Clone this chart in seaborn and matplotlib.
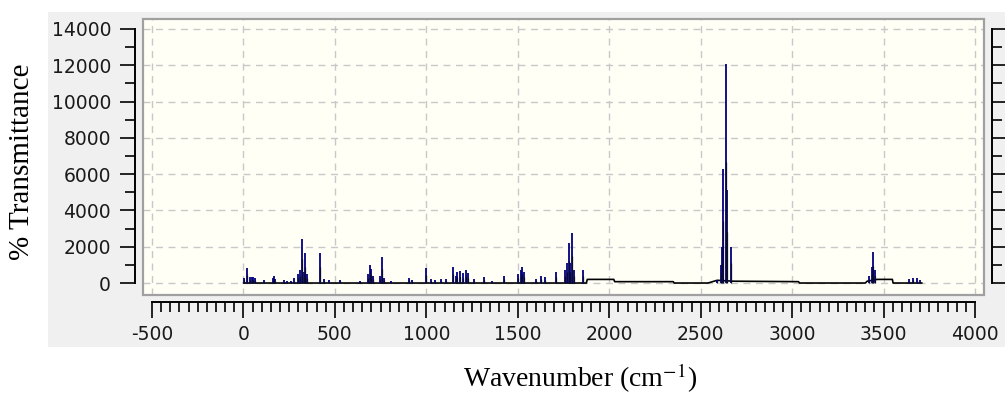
import matplotlib
matplotlib.use("Agg")
import matplotlib.pyplot as plt
from matplotlib.patches import Rectangle
from matplotlib.ticker import MultipleLocator
import pandas as pd
import seaborn as sns

# peak sticks (wavenumber, intensity)
peak_pos = [5, 20, 35, 45, 55, 65, 110, 160, 165, 175, 220, 240, 260, 275, 300, 310, 321, 330, 339, 350,
            421, 440, 470, 530, 640, 680, 690, 700, 710, 745, 759, 770, 805, 903, 923, 1000, 1025, 1050,
            1080, 1110, 1147, 1160, 1170, 1185, 1200, 1215, 1230, 1260, 1313, 1360, 1422, 1500, 1515,
            1525, 1535, 1600, 1625, 1650, 1707, 1760, 1770, 1780, 1788, 1798, 1810, 1858,
            2590, 2610, 2619, 2624, 2637, 2646, 2664, 3420, 3435, 3444, 3452, 3640, 3660, 3680, 3700]
peak_height = [300, 820, 350, 320, 330, 300, 150, 250, 390, 200, 150, 120, 120, 250, 500, 700, 2415, 600, 1630, 500,
               1650, 200, 150, 180, 100, 500, 990, 800, 400, 400, 1420, 300, 130, 290, 150, 820, 200, 150,
               200, 220, 900, 400, 600, 650, 550, 700, 550, 200, 350, 120, 400, 500, 700,
               900, 600, 200, 400, 350, 620, 700, 1100, 2210, 1100, 2740, 700, 710,
               170, 1000, 2000, 6260, 12080, 5100, 2000, 400, 900, 1720, 700, 220, 280, 250, 150]

# baseline trace
base_x = [0, 1875, 1880, 2025, 2030, 2350, 2355, 2540, 2590, 2680, 3035, 3040, 3400, 3410, 3465, 3548, 3552, 3710]
base_y = [0, 0, 200, 200, 75, 75, 0, 0, 150, 100, 75, 0, 0, 100, 200, 200, 0, 0]

x_ticks = list(range(-500, 4001, 500))
y_ticks = list(range(0, 14001, 2000))

sns.set_theme(style="white")
plt.rcParams['font.family'] = ['DejaVu Sans']
plt.rcParams['mathtext.fontset'] = 'stix'
plt.rcParams['axes.unicode_minus'] = False

fig = plt.figure(figsize=(10.05, 3.98), dpi=100)
fig.patch.set_facecolor("white")

W, H = 1005, 398
# grey panel behind the plot
fig.patches.append(Rectangle((48 / W, 1 - 347 / H), 1 - 48 / W, (347 - 12) / H,
                             transform=fig.transFigure, facecolor="#f0f0f0", edgecolor="none", zorder=-5))

ax = fig.add_axes([143 / W, 1 - 295 / H, (984 - 143) / W, (295 - 19) / H])
ax.set_zorder(2)
ax.set_facecolor("#fffff6")

base = pd.DataFrame({"x": base_x, "y": base_y})
sns.lineplot(data=base, x="x", y="y", ax=ax, color="black", lw=1.2, estimator=None, sort=False, zorder=3)
ax.vlines(peak_pos, 0, peak_height, colors="#00007a", lw=1.3, zorder=4)
ax.vlines(peak_pos, 0, [h * 0.55 for h in peak_height], colors="#0a0a30", lw=0.9, zorder=5)

ax.set_xlim(-549, 4049)
ax.set_ylim(-660, 14550)
ax.set_xticks(x_ticks)
ax.set_yticks(y_ticks)
ax.xaxis.set_minor_locator(MultipleLocator(50))
ax.yaxis.set_minor_locator(MultipleLocator(1000))
ax.set_xlabel("")
ax.set_ylabel("")

ax.grid(True, which="major", linestyle=(0, (5, 4)), color="#c8c8c8", lw=1.0)

# frame of the plot area
ax.add_patch(Rectangle((0, 0), 1, 1, transform=ax.transAxes, fill=False,
                       edgecolor="#a0a0a0", lw=1.6, clip_on=False, zorder=6))

ax.spines["top"].set_visible(False)
for s in ["left", "right", "bottom"]:
    ax.spines[s].set_visible(True)
    ax.spines[s].set_color("black")
    ax.spines[s].set_linewidth(1.4)
ax.spines["left"].set_position(("outward", 6))
ax.spines["right"].set_position(("outward", 6))
ax.spines["bottom"].set_position(("outward", 5))
ax.spines["left"].set_bounds(0, 14000)
ax.spines["right"].set_bounds(0, 14000)
ax.spines["bottom"].set_bounds(-500, 4000)

ax.tick_params(axis="y", which="both", left=True, right=True, labelright=False, direction="out",
               color="black", width=1.2)
ax.tick_params(axis="y", which="major", length=11, pad=6, labelsize=13.5, labelcolor="#1a1a1a")
ax.tick_params(axis="y", which="minor", length=7)
ax.tick_params(axis="x", which="both", bottom=True, direction="out", color="black", width=1.2)
ax.tick_params(axis="x", which="major", length=11.5, pad=5, labelsize=13.5, labelcolor="#1a1a1a")
ax.tick_params(axis="x", which="minor", length=7)

fig.text(580 / W, 1 - 378 / H, "Wavenumber (cm$^{-1}$)", family="Liberation Serif",
         fontsize=20, ha="center", va="center", color="black")
fig.text(22 / W, 1 - 162 / H, "% Transmittance", family="Liberation Serif",
         fontsize=21, ha="center", va="center", rotation=90, color="black")

fig.savefig("out.png", dpi=100)
